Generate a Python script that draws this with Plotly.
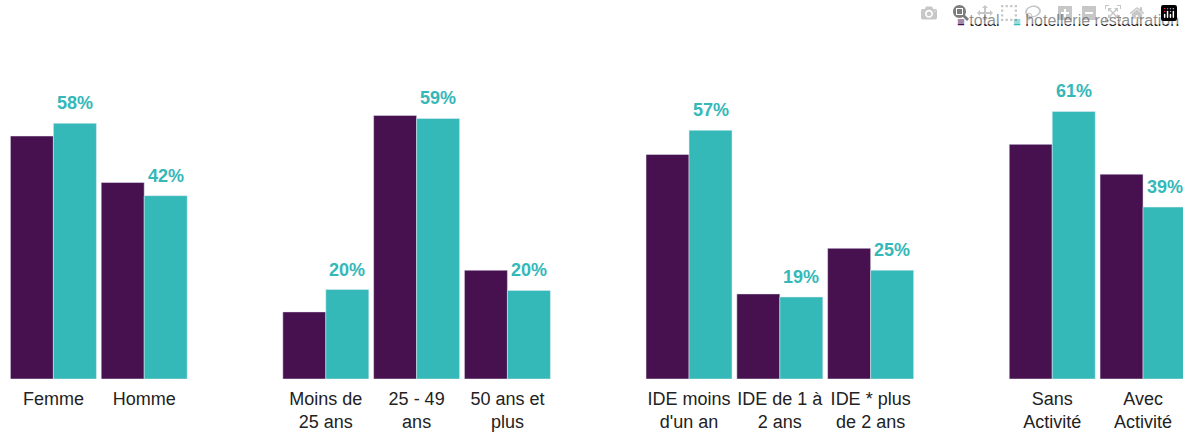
import plotly.graph_objects as go

categories = ["Femme", "Homme", "", "Moins de<br>25 ans", "25 - 49<br>ans", "50 ans et<br>plus", "",
              "IDE moins<br>d'un an", "IDE de 1 à<br>2 ans", "IDE * plus<br>de 2 ans", "",
              "Sans<br>Activité", "Avec<br>Activité"]
series_names = ["total", "hotellerie restauration"]
total = [55.4, 44.8, None, 15.3, 60.1, 24.8, None, 51.2, 19.4, 29.8, None, 53.5, 46.7]
hotellerie = [58.3, 41.8, None, 20.4, 59.4, 20.2, None, 56.7, 18.7, 24.8, None, 61.0, 39.2]

PURPLE = "#46114E"
TEAL = "#34B8B8"
BARGAP = 0.053
FONT = "Liberation Sans, Arial"

xs = list(range(len(categories)))
fig = go.Figure()
fig.add_trace(go.Bar(x=xs, y=total, name=series_names[0], marker_color=PURPLE))
fig.add_trace(go.Bar(x=xs, y=hotellerie, name=series_names[1], marker_color=TEAL))

for x, v in zip(xs, hotellerie):
    if v is None:
        continue
    fig.add_annotation(x=x + (1 - BARGAP) / 4, y=v, text=f"<b>{round(v)}%</b>",
                       showarrow=False, yanchor="bottom", yshift=8,
                       font=dict(family=FONT, size=18, color=TEAL))

# compact legend drawn as text (matches the reference's small squares)
legend_text = (f'<span style="color:{PURPLE};font-size:13px">■</span> {series_names[0]}   '
               f'<span style="color:{TEAL};font-size:13px">■</span> {series_names[1]}')
fig.add_annotation(xref="paper", yref="paper", x=1, y=1.169, xanchor="right",
                   yanchor="middle", xshift=-2, showarrow=False, text=legend_text,
                   font=dict(family=FONT, size=16, color="#222222"))

tickvals = [x for x, c in zip(xs, categories) if c]
ticktext = [c for c in categories if c]

fig.update_layout(
    width=1183, height=432,
    margin=dict(l=8, r=0, t=72, b=53, autoexpand=False),
    barmode="group", bargap=BARGAP, bargroupgap=0,
    plot_bgcolor="white", paper_bgcolor="white",
    showlegend=False,
    font=dict(family=FONT, color="#222222"),
    xaxis=dict(range=[-0.5, 12.44], tickvals=tickvals, ticktext=ticktext,
               showgrid=False, zeroline=False, showline=False, ticks="",
               automargin=False,
               tickfont=dict(size=18, color="#222222"), ticklabelstandoff=7),
    yaxis=dict(range=[0, 70], visible=False, showgrid=False, zeroline=False,
               automargin=False),
)

# remove the browser's default 8px body margin so the figure fills the window exactly
fig.write_html("out.html",
               post_script="document.body.style.margin='0';document.body.style.overflow='hidden';")
